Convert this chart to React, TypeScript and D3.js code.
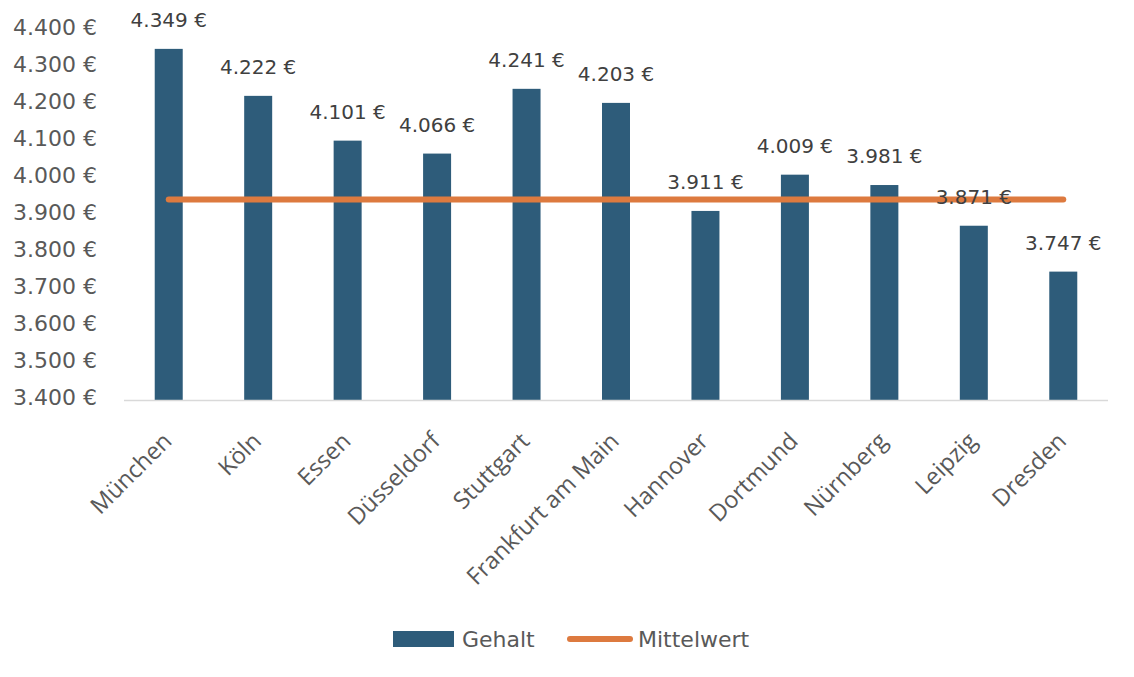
import React from "react";
import * as d3 from "d3";

const categories = ["München", "Köln", "Essen", "Düsseldorf", "Stuttgart", "Frankfurt am Main", "Hannover", "Dortmund", "Nürnberg", "Leipzig", "Dresden"];
const gehalt = [4349, 4222, 4101, 4066, 4241, 4203, 3911, 4009, 3981, 3871, 3747];
const mittelwert = [3942, 3942, 3942, 3942, 3942, 3942, 3942, 3942, 3942, 3942, 3942];
const yTicks = [3400, 3500, 3600, 3700, 3800, 3900, 4000, 4100, 4200, 4300, 4400];

const W = 1134, H = 677;
const BAR = "#2E5C7A";
const LINE = "#DD7A3F";
const FONT = "DejaVu Sans";

const fmt = (v: number) => d3.format(",.0f")(v).replace(/,/g, ".") + " €";

export default function App() {
  const x = d3.scaleBand<string>().domain(categories).range([124, 1108]).paddingInner(0.687).paddingOuter(0.3435);
  const y = d3.scaleLinear().domain([3400, 4400]).range([400, 30]);
  const cx = (c: string) => (x(c) as number) + x.bandwidth() / 2;
  const line = d3.line<number>().x((_, i) => cx(categories[i])).y((d) => y(d));

  return (
    <svg width={W} height={H} style={{ position: "absolute", left: 0, top: 0, background: "#fff" }}>
      {yTicks.map((t) => (
        <text key={t} x={97} y={y(t) + 5} textAnchor="end" fontFamily={FONT} fontSize={22} fill="#595959">
          {fmt(t)}
        </text>
      ))}
      {categories.map((c, i) => (
        <rect key={c} x={x(c)} y={y(gehalt[i])} width={x.bandwidth()} height={y(3400) - y(gehalt[i])} fill={BAR} />
      ))}
      <line x1={124} x2={1108} y1={400.5} y2={400.5} stroke="#D9D9D9" strokeWidth={1.5} />
      <path d={line(mittelwert) || ""} fill="none" stroke={LINE} strokeWidth={6} strokeLinecap="round" />
      {categories.map((c, i) => (
        <text key={c} x={cx(c)} y={y(gehalt[i]) - 22} textAnchor="middle" fontFamily={FONT} fontSize={20} fill="#404040">
          {fmt(gehalt[i])}
        </text>
      ))}
      {categories.map((c) => (
        <text key={c} transform={`translate(${cx(c) - 8},${430}) rotate(-45)`} textAnchor="end" dy="0.75em" fontFamily="Open Sans" fontSize={23.5} fill="#595959">
          {c}
        </text>
      ))}
      <rect x={393} y={631} width={61} height={16} fill={BAR} />
      <text x={462} y={647} fontFamily={FONT} fontSize={22} fill="#595959">Gehalt</text>
      <line x1={570} x2={630} y1={639} y2={639} stroke={LINE} strokeWidth={6} strokeLinecap="round" />
      <text x={638} y={647} fontFamily={FONT} fontSize={22} fill="#595959">Mittelwert</text>
    </svg>
  );
}
